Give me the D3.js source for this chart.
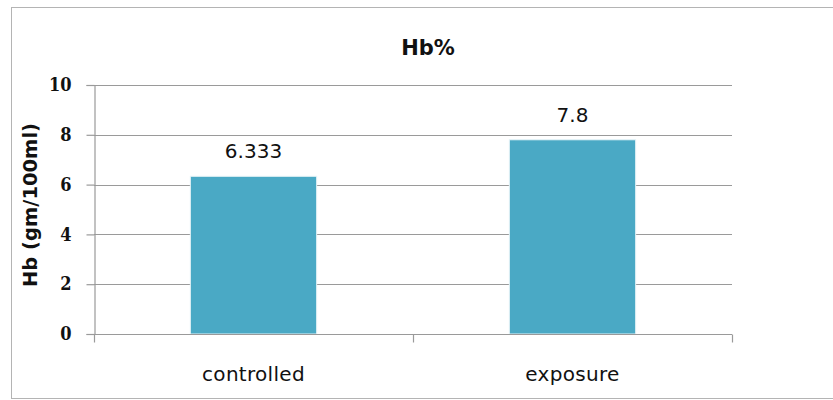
<!DOCTYPE html>
<html>
<head>
<meta charset="utf-8">
<script src="https://cdn.jsdelivr.net/npm/d3@7"></script>
<style>
  html, body { margin: 0; padding: 0; background: #fff; }
  svg { display: block; }
</style>
</head>
<body>
<svg id="chart" width="833" height="400"></svg>
<script>
// Hemoglobin means per group
const categories = ["controlled", "exposure"];
const values = [6.333, 7.8];
const valueLabels = ["6.333", "7.8"];
const yTicks = [0, 2, 4, 6, 8, 10];
const chartTitle = "Hb%";
const yTitle = "Hb (gm/100ml)";

const svg = d3.select("#chart");
const W = 833, H = 400;
const plot = { left: 94, right: 732, top: 85, bottom: 334 };

// outer frame (right edge runs off the canvas)
svg.append("rect")
  .attr("x", 11.5).attr("y", 7.5)
  .attr("width", W).attr("height", 391)
  .attr("fill", "#fff").attr("stroke", "#b4b4b4").attr("stroke-width", 1);

const x = d3.scaleBand().domain(categories).range([plot.left, plot.right]).padding(0);
const y = d3.scaleLinear().domain([0, 10]).range([plot.bottom, plot.top]);
const barW = x.bandwidth() * 0.396;

// horizontal gridlines
svg.append("g").selectAll("line").data(yTicks.filter(d => d > 0)).join("line")
  .attr("x1", plot.left).attr("x2", plot.right)
  .attr("y1", d => Math.round(y(d)) + 0.5).attr("y2", d => Math.round(y(d)) + 0.5)
  .attr("stroke", "#9a9a9a").attr("stroke-width", 1.2);

// bars
svg.append("g").selectAll("rect").data(values).join("rect")
  .attr("x", (d, i) => x(categories[i]) + (x.bandwidth() - barW) / 2)
  .attr("width", barW)
  .attr("y", d => y(d))
  .attr("height", d => y(0) - y(d))
  .attr("fill", "#4aa9c5")
  .attr("stroke", "#e6f3f7").attr("stroke-width", 1);

// y axis
const yAxis = svg.append("g")
  .attr("transform", `translate(${plot.left + 0.5},0)`)
  .call(d3.axisLeft(y).tickValues(yTicks).tickSize(8).tickPadding(15).tickFormat(d3.format("d")));
yAxis.select(".domain").attr("stroke", "#9a9a9a").attr("stroke-width", 1.2);
yAxis.selectAll(".tick line").attr("stroke", "#9a9a9a").attr("stroke-width", 1.2);
yAxis.selectAll(".tick text")
  .attr("font-family", "'DejaVu Serif Condensed', 'DejaVu Serif', serif")
  .attr("font-weight", "bold").attr("font-size", 18).attr("fill", "#111");

// x axis: ticks sit on band boundaries
const xAxis = svg.append("g")
  .attr("transform", `translate(0,${plot.bottom + 0.5})`);
xAxis.append("line")
  .attr("x1", plot.left).attr("x2", plot.right)
  .attr("stroke", "#9a9a9a").attr("stroke-width", 1.2);
const bounds = [plot.left, ...categories.slice(1).map(c => x(c)), plot.right];
xAxis.selectAll("line.tk").data(bounds).join("line").attr("class", "tk")
  .attr("x1", d => d + 0.5).attr("x2", d => d + 0.5)
  .attr("y1", 0).attr("y2", 8)
  .attr("stroke", "#9a9a9a").attr("stroke-width", 1.2);
xAxis.selectAll("text").data(categories).join("text")
  .attr("x", d => x(d) + x.bandwidth() / 2)
  .attr("y", 46)
  .attr("text-anchor", "middle")
  .attr("font-family", "'DejaVu Sans', sans-serif")
  .attr("font-size", 20).attr("letter-spacing", 0.3).attr("fill", "#111")
  .text(d => d);

// value labels
svg.append("g").selectAll("text").data(values).join("text")
  .attr("x", (d, i) => x(categories[i]) + x.bandwidth() / 2)
  .attr("y", d => y(d) - 18)
  .attr("text-anchor", "middle")
  .attr("font-family", "'DejaVu Sans', sans-serif")
  .attr("font-size", 20).attr("fill", "#111")
  .text((d, i) => valueLabels[i]);

// title
svg.append("text")
  .attr("x", 428).attr("y", 55)
  .attr("text-anchor", "middle")
  .attr("font-family", "'DejaVu Sans', sans-serif")
  .attr("font-weight", "bold").attr("font-size", 21).attr("fill", "#111")
  .text(chartTitle);

// y axis title
svg.append("text")
  .attr("transform", "translate(37,205) rotate(-90)")
  .attr("text-anchor", "middle")
  .attr("font-family", "'DejaVu Sans', sans-serif")
  .attr("font-weight", "bold").attr("font-size", 19.5).attr("fill", "#111")
  .text(yTitle);
</script>
</body>
</html>
